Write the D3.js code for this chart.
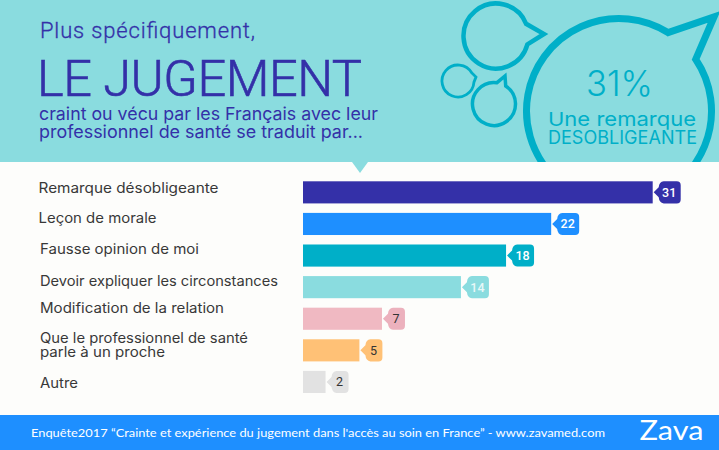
<!DOCTYPE html>
<html><head><meta charset="utf-8">
<script src="https://cdn.jsdelivr.net/npm/d3@7"></script>
<style>html,body{margin:0;padding:0;background:#fdfdfb}svg{display:block}</style>
</head><body><svg id="c" width="719" height="450"></svg>
<script>
const categories = ["Remarque désobligeante","Leçon de morale","Fausse opinion de moi","Devoir expliquer les circonstances","Modification de la relation","Que le professionnel de santé|parle à un proche","Autre"];
const values = [31,22,18,14,7,5,2];
const barColors = ["#3430a8","#1e8fff","#00afc8","#8adcdf","#f0b9c2","#ffc176","#e2e2e2"];
const tagColors = ["#3430a8","#1e8fff","#00afc8","#8adcdf","#ecb1bd","#ffc176","#e2e2e2"];
const tagText = ["#fff","#fff","#fff","#e8f8f8","#333","#333","#333"];

const W=719,H=450;
const svg=d3.select("#c");
const TEAL="#8adcdf",BLUE="#00afc8",NAVY="#3430a8";
svg.append("rect").attr("width",W).attr("height",H).attr("fill","#fdfdfb");
svg.append("rect").attr("width",W).attr("height",162).attr("fill",TEAL);
svg.append("path").attr("d","M352,162L360,173L368,162Z").attr("fill",TEAL);
svg.append("rect").attr("y",415).attr("width",W).attr("height",35).attr("fill","#1e8fff");

const T=(s,x,y,o)=>{const t=svg.append("text").attr("x",x).attr("y",y).text(s)
  .attr("font-family",o.f).attr("font-size",o.s).attr("fill",o.c).attr("font-weight",o.w||400);
  if(o.len)t.attr("textLength",o.len).attr("lengthAdjust",o.adj||"spacingAndGlyphs");
  if(o.a)t.attr("text-anchor",o.a);
  if(o.sw)t.attr("stroke",o.c).attr("stroke-width",o.sw);
  return t;};
const INK="Roboto",MONT="Inter";
T("Plus spécifiquement,",40,38,{f:INK,s:22,c:NAVY,w:300,len:215,adj:"spacing",sw:0.3});
T("LE JUGEMENT",37,96,{f:INK,s:50.5,c:NAVY,w:300,len:325,adj:"spacing",sw:0.6});
T("craint ou vécu par les Français avec leur",39,120,{f:MONT,s:17.5,c:NAVY,len:339});
T("professionnel de santé se traduit par...",39,137.5,{f:MONT,s:17.5,c:NAVY,len:324});

// speech bubbles
function bubble(cx,cy,r,a0,a1,tip,sw){
  const p=d3.path();
  p.arc(cx,cy,r,a0,a1,false);
  p.lineTo(tip[0],tip[1]);
  p.closePath();
  return {d:p.toString(),sw};
}
svg.append("defs").append("clipPath").attr("id","hdr").append("rect").attr("width",W).attr("height",162);
const g=svg.append("g").attr("clip-path","url(#hdr)");
const rad=d=>d*Math.PI/180;
[
 bubble(619,111,92.5,rad(-34),rad(-58)+2*Math.PI,[714,17],7),
 bubble(496,36,32.5,rad(15),rad(-22)+2*Math.PI,[544,34],4.5),
 bubble(458,81,16,rad(4),rad(-30)+2*Math.PI,[476,77],2.8),
 bubble(494,104,21.5,rad(-57),rad(-82)+2*Math.PI,[505,76],3.5)
].forEach(b=>g.append("path").attr("d",b.d).attr("fill","none").attr("stroke",BLUE).attr("stroke-width",b.sw).attr("stroke-linejoin","miter"));
T("31%",586,96,{f:"Inter",s:36,c:BLUE,w:300,len:67});
T("Une remarque",548,125.5,{f:MONT,s:19,c:BLUE,len:148});
T("DESOBLIGEANTE",548,143.5,{f:MONT,s:18,c:BLUE,len:149});

// chart
const x=d3.scaleLinear().domain([0,31]).range([303,652.7]);
const y=d3.scaleBand().domain(categories).range([181.3,393]).paddingInner(0.3).paddingOuter(0);
svg.append("g").selectAll("rect").data(categories).join("rect")
  .attr("x",x(0)).attr("y",d=>y(d)).attr("height",y.bandwidth())
  .attr("width",(d,i)=>x(values[i])-x(0)).attr("fill",(d,i)=>barColors[i]);

const bw=y.bandwidth(),r=4;
const tags=svg.append("g").selectAll("g").data(categories).join("g")
  .attr("transform",(d,i)=>`translate(${x(values[i])},${y(d)})`);
const tagW=i=>values[i]>=10?28:23;
tags.append("path").attr("d",(d,i)=>{
  const p=d3.path(),w=tagW(i);
  p.moveTo(1,bw/2);
  p.lineTo(6,bw/2-5);
  p.quadraticCurveTo(6.5,0.5,11,0);
  p.lineTo(w-r,0);p.quadraticCurveTo(w,0,w,r);
  p.lineTo(w,bw-r);p.quadraticCurveTo(w,bw,w-r,bw);
  p.lineTo(11,bw);
  p.quadraticCurveTo(6.5,bw-0.5,6,bw/2+5);
  p.closePath();return p.toString();
}).attr("fill",(d,i)=>tagColors[i]);
tags.append("text").attr("x",(d,i)=>values[i]>=10?16.5:14).attr("y",bw/2+4.4).attr("text-anchor","middle")
  .attr("font-family","Roboto").attr("font-size",12.5)
  .attr("font-weight",(d,i)=>values[i]>=10?500:400)
  .attr("fill",(d,i)=>tagText[i]).text((d,i)=>values[i]);

// category labels (hand-placed in the original)
const labelX=[38.5,38.5,40,40,40,40,40];
const labelBase=[192.5,223,254,285.5,313,342.5,387.5];
const labelWidths=[[180],[118],[159],[238],[184],[208,125],[38]];
categories.forEach((c,i)=>{
  c.split("|").forEach((ln,j)=>{
    T(ln,labelX[i],labelBase[i]+j*14,{f:MONT,s:14,c:"#383838",len:labelWidths[i][j]});
  });
});

// footer
T("Enquête2017 “Crainte et expérience du jugement dans l'accès au soin en France” - www.zavamed.com",31,437,{f:"Lato",s:11.5,c:"#fff",len:574});
T("Zava",639.5,439.5,{f:"Lato",s:26,c:"#fff",w:400,len:64});
</script></body></html>
